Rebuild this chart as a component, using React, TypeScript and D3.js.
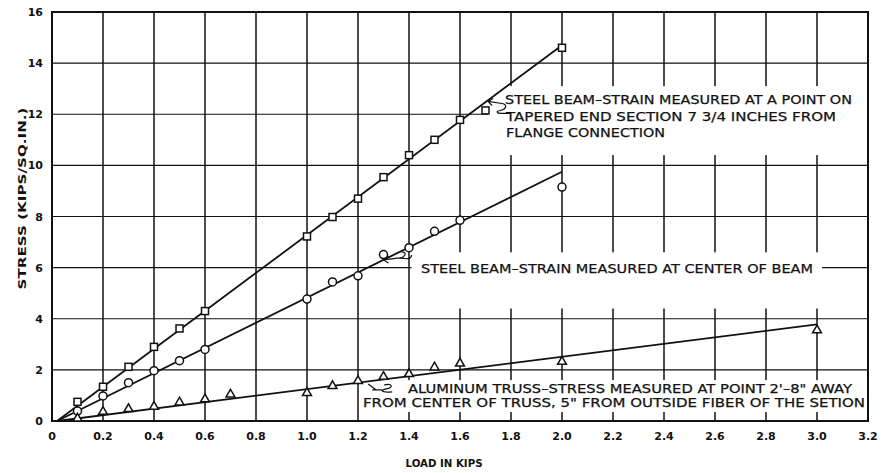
import React, { useRef, useEffect } from 'react';
import * as d3 from 'd3';

// load in kips / stress in kips per sq. in.
const squareLoad = [0.1, 0.2, 0.3, 0.4, 0.5, 0.6, 1.0, 1.1, 1.2, 1.3, 1.4, 1.5, 1.6, 1.7, 2.0];
const squareStress = [0.75, 1.34, 2.12, 2.9, 3.62, 4.3, 7.22, 7.98, 8.7, 9.54, 10.4, 11.0, 11.78, 12.15, 14.6];

const circleLoad = [0.1, 0.2, 0.3, 0.4, 0.5, 0.6, 1.0, 1.1, 1.2, 1.3, 1.4, 1.5, 1.6, 2.0];
const circleStress = [0.39, 0.98, 1.5, 1.97, 2.36, 2.8, 4.77, 5.44, 5.68, 6.51, 6.78, 7.42, 7.85, 9.15];

const triLoad = [0.1, 0.2, 0.3, 0.4, 0.5, 0.6, 0.7, 1.0, 1.1, 1.2, 1.3, 1.4, 1.5, 1.6, 2.0, 3.0];
const triStress = [0.1, 0.36, 0.47, 0.56, 0.73, 0.85, 1.04, 1.1, 1.37, 1.57, 1.73, 1.84, 2.1, 2.25, 2.32, 3.55];

// hand-drawn fit lines (start, end)
const squareFitLoad = [0.02, 2.0];
const squareFitStress = [0, 14.7];
const circleFitLoad = [0.02, 2.0];
const circleFitStress = [0, 9.75];
const triFitLoad = [0.02, 3.0];
const triFitStress = [0, 3.78];

const xTicks = [0, 0.2, 0.4, 0.6, 0.8, 1.0, 1.2, 1.4, 1.6, 1.8, 2.0, 2.2, 2.4, 2.6, 2.8, 3.0, 3.2];
const yTicks = [0, 2, 4, 6, 8, 10, 12, 14, 16];

const label1 = ['STEEL BEAM\u2013STRAIN MEASURED AT A POINT ON', 'TAPERED END SECTION 7 3/4 INCHES FROM', 'FLANGE CONNECTION'];
const label2 = ['STEEL BEAM\u2013STRAIN MEASURED AT CENTER OF BEAM'];
const label3 = ['ALUMINUM TRUSS\u2013STRESS MEASURED AT POINT 2\'\u20138" AWAY', 'FROM CENTER OF TRUSS, 5" FROM OUTSIDE FIBER OF THE SETION'];

const W = 886;
const H = 473;
const FONT = '"DejaVu Sans", sans-serif';

const App = () => {
  const ref = useRef<SVGSVGElement>(null);

  useEffect(() => {
    const svg = d3.select(ref.current);
    svg.selectAll('*').remove();

    const margin = { top: 12, right: 18, bottom: 52, left: 52 };
    const x = d3.scaleLinear().domain([0, 3.2]).range([margin.left, W - margin.right]);
    const y = d3.scaleLinear().domain([0, 16]).range([H - margin.bottom, margin.top]);

    svg.append('rect').attr('width', W).attr('height', H).attr('fill', '#fff');

    // grid
    const grid = svg.append('g').attr('stroke', '#111');
    grid.selectAll('line.v')
      .data(xTicks.slice(1, -1))
      .join('line')
      .attr('x1', d => x(d)).attr('x2', d => x(d))
      .attr('y1', y(16)).attr('y2', y(0))
      .attr('stroke-width', 1.5);
    grid.selectAll('line.h')
      .data(yTicks.slice(1, -1))
      .join('line')
      .attr('class', 'h')
      .attr('x1', x(0)).attr('x2', x(3.2))
      .attr('y1', d => y(d)).attr('y2', d => y(d))
      .attr('stroke-width', 1.2);

    // white boxes behind annotations (they hide the grid)
    const boxes = [
      [1.71, 3.2, 13.1, 10.4],
      [1.41, 3.02, 6.6, 4.4],
      [1.22, 3.2, 1.6, 0.35],
    ];
    svg.append('g').selectAll('rect')
      .data(boxes)
      .join('rect')
      .attr('x', d => x(d[0]))
      .attr('y', d => y(d[2]))
      .attr('width', d => x(d[1]) - x(d[0]))
      .attr('height', d => y(d[3]) - y(d[2]))
      .attr('fill', '#fff');

    // frame
    svg.append('rect')
      .attr('x', x(0)).attr('y', y(16))
      .attr('width', x(3.2) - x(0)).attr('height', y(0) - y(16))
      .attr('fill', 'none').attr('stroke', '#111').attr('stroke-width', 2);

    // tick labels
    svg.append('g').selectAll('text')
      .data(xTicks)
      .join('text')
      .attr('x', d => x(d))
      .attr('y', y(0) + 19)
      .attr('text-anchor', 'middle')
      .attr('font-family', FONT).attr('font-size', 11).attr('font-weight', 'bold')
      .attr('fill', '#111')
      .text(d => (d === 0 ? '0' : d3.format('.1f')(d)));

    svg.append('g').selectAll('text')
      .data(yTicks)
      .join('text')
      .attr('x', x(0) - 9)
      .attr('y', d => y(d) + 4)
      .attr('text-anchor', 'end')
      .attr('font-family', FONT).attr('font-size', 11).attr('font-weight', 'bold')
      .attr('fill', '#111')
      .text(d => d);

    // axis titles
    svg.append('text')
      .attr('transform', `translate(26,${(y(0) + y(16)) / 2 - 18}) rotate(-90)`)
      .attr('text-anchor', 'middle')
      .attr('font-family', FONT).attr('font-size', 11).attr('font-weight', 'bold')
      .attr('textLength', 182).attr('lengthAdjust', 'spacingAndGlyphs')
      .attr('fill', '#111')
      .text('STRESS (KIPS/SQ.IN.)');

    svg.append('text')
      .attr('x', 444).attr('y', 467)
      .attr('text-anchor', 'middle')
      .attr('font-family', FONT).attr('font-size', 10).attr('font-weight', 'bold')
      .attr('textLength', 77).attr('lengthAdjust', 'spacingAndGlyphs')
      .attr('fill', '#111')
      .text('LOAD IN KIPS');

    // fit lines
    const line = d3.line<[number, number]>().x(d => x(d[0])).y(d => y(d[1]));
    const fits = [
      d3.zip(squareFitLoad, squareFitStress),
      d3.zip(circleFitLoad, circleFitStress),
      d3.zip(triFitLoad, triFitStress),
    ];
    svg.append('g').selectAll('path')
      .data(fits)
      .join('path')
      .attr('d', d => line(d as [number, number][]))
      .attr('fill', 'none').attr('stroke', '#111').attr('stroke-width', 1.8);

    // markers
    const mk = svg.append('g').attr('fill', '#fff').attr('stroke', '#111').attr('stroke-width', 1.5);
    mk.selectAll('rect')
      .data(d3.zip(squareLoad, squareStress))
      .join('rect')
      .attr('x', d => x(d[0]) - 3.5).attr('y', d => y(d[1]) - 3.5)
      .attr('width', 7).attr('height', 7);
    mk.selectAll('circle')
      .data(d3.zip(circleLoad, circleStress))
      .join('circle')
      .attr('cx', d => x(d[0])).attr('cy', d => y(d[1]))
      .attr('r', 4);
    const tri = d3.symbol().type(d3.symbolTriangle).size(34);
    mk.selectAll('path')
      .data(d3.zip(triLoad, triStress))
      .join('path')
      .attr('transform', d => `translate(${x(d[0])},${y(d[1])})`)
      .attr('d', tri);

    // annotations
    const ann = svg.append('g')
      .attr('font-family', FONT).attr('font-size', 12.5)
      .attr('fill', '#111').attr('stroke', '#111').attr('stroke-width', 0.25);
    const texts = [
      { lines: label1, x0: [505, 506, 506], x1: [852, 836, 665], base: [104, 121, 137] },
      { lines: label2, x0: [421], x1: [813], base: [273] },
      { lines: label3, x0: [408, 363], x1: [852, 865], base: [393, 407] },
    ];
    texts.forEach(t => {
      t.lines.forEach((s, i) => {
        ann.append('text')
          .attr('x', t.x0[i]).attr('y', t.base[i])
          .attr('textLength', t.x1[i] - t.x0[i])
          .attr('lengthAdjust', 'spacingAndGlyphs')
          .text(s);
      });
    });

    // leader squiggles, tips anchored on the fit lines
    const lead = svg.append('g').attr('fill', 'none').attr('stroke', '#111').attr('stroke-width', 1.2);
    const tip1 = [x(1.71), y(12.5)];
    lead.append('path').attr('d',
      `M${tip1[0]},${tip1[1]} l14,2 c6,1 4,6 -2,7 c-4,1 -4,3 2,3 l8,0`);
    lead.append('path').attr('d', `M${tip1[0] + 5},${tip1[1] - 3} L${tip1[0]},${tip1[1]} L${tip1[0] + 4},${tip1[1] + 4}`);
    const tip2 = [x(1.3), y(6.3)];
    lead.append('path').attr('d',
      `M${tip2[0]},${tip2[1]} l16,-2 c6,-1 8,-6 2,-6 m-2,6 c6,1 12,2 12,-3`);
    lead.append('path').attr('d', `M${tip2[0] + 5},${tip2[1] - 4} L${tip2[0]},${tip2[1]} L${tip2[0] + 5},${tip2[1] + 3}`);
    const tip3 = [x(1.24), y(1.45)];
    lead.append('path').attr('d',
      `M${tip3[0]},${tip3[1]} l8,6 m-4,0 l10,0 M${tip3[0] + 16},${tip3[1] + 1} c8,-2 10,3 2,4 c-6,1 -6,4 6,3`);
  }, []);

  return (
    <svg
      ref={ref}
      width={W}
      height={H}
      style={{ position: 'absolute', top: 0, left: 0, display: 'block' }}
    />
  );
};

export default App;
